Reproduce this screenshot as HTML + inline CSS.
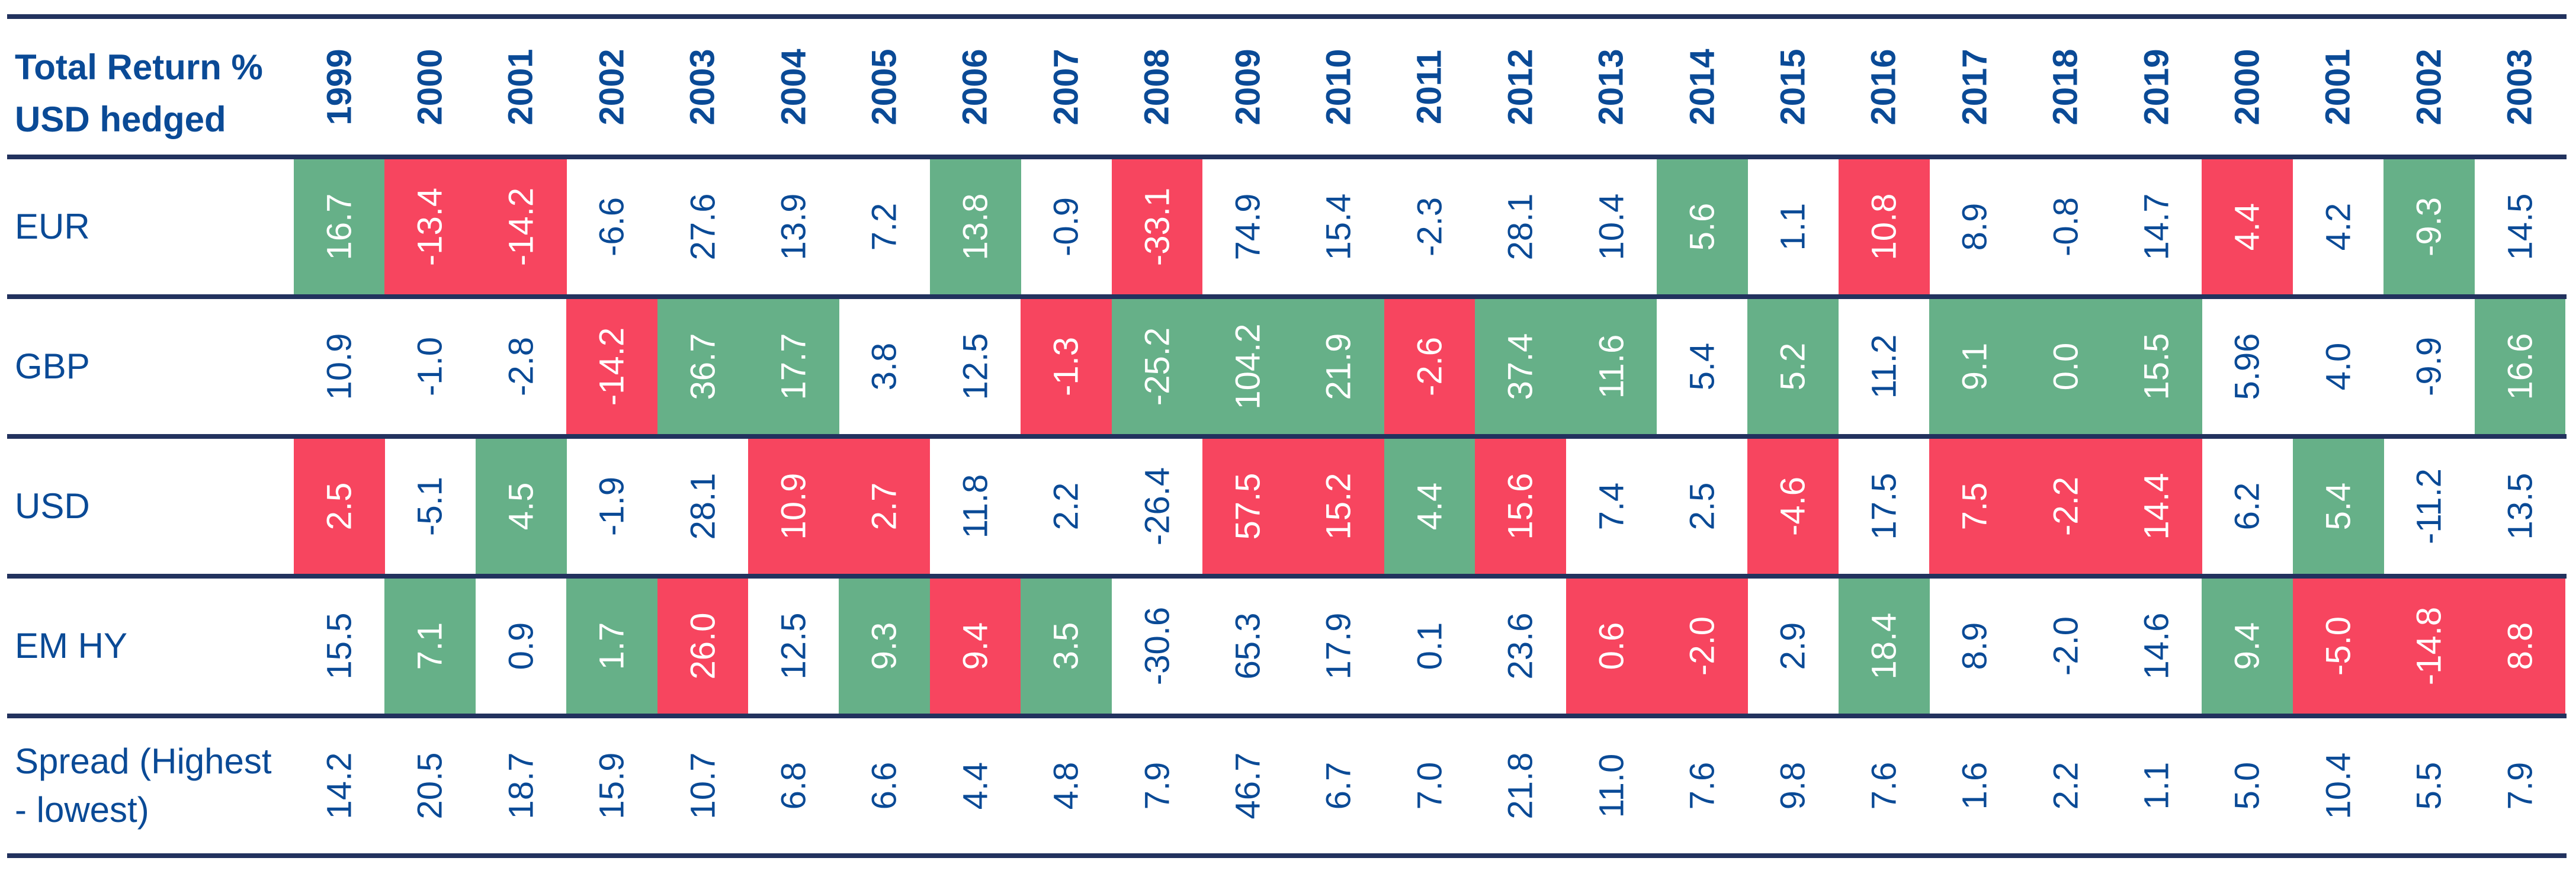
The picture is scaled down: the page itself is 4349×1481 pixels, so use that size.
<!DOCTYPE html>
<html><head><meta charset="utf-8">
<style>
html,body{margin:0;padding:0;background:#fff;}
#root{position:relative;width:4349px;height:1481px;overflow:hidden;font-family:"Liberation Sans",sans-serif;}
.hl{position:absolute;left:12px;width:4321px;height:8px;background:#22325e;}
.cell{position:absolute;}
.txt{position:absolute;left:50%;top:50%;transform:translate(-50%,-50%) rotate(-90deg);white-space:nowrap;font-size:58px;color:#0a4a96;}
.lbl{position:absolute;left:25px;color:#0a4a96;font-size:60px;line-height:82px;}
</style></head>
<body>
<div id="root">
  <div class="lbl" style="top:70px;font-weight:bold;line-height:88px;">Total Return %<br>USD hedged</div>
</div>
<script>
const years=["1999","2000","2001","2002","2003","2004","2005","2006","2007","2008","2009","2010","2011","2012","2013","2014","2015","2016","2017","2018","2019","2000","2001","2002","2003"];
const rowLabels=["EUR","GBP","USD","EM HY","Spread (Highest<br>- lowest)"];
const eurVals=["16.7","-13.4","-14.2","-6.6","27.6","13.9","7.2","13.8","-0.9","-33.1","74.9","15.4","-2.3","28.1","10.4","5.6","1.1","10.8","8.9","-0.8","14.7","4.4","4.2","-9.3","14.5"];
const eurCol=["G","R","R","","","","","G","","R","","","","","","G","","R","","","","R","","G",""];
const gbpVals=["10.9","-1.0","-2.8","-14.2","36.7","17.7","3.8","12.5","-1.3","-25.2","104.2","21.9","-2.6","37.4","11.6","5.4","5.2","11.2","9.1","0.0","15.5","5.96","4.0","-9.9","16.6"];
const gbpCol=["","","","R","G","G","","","R","G","G","G","R","G","G","","G","","G","G","G","","","","G"];
const usdVals=["2.5","-5.1","4.5","-1.9","28.1","10.9","2.7","11.8","2.2","-26.4","57.5","15.2","4.4","15.6","7.4","2.5","-4.6","17.5","7.5","-2.2","14.4","6.2","5.4","-11.2","13.5"];
const usdCol=["R","","G","","","R","R","","","","R","R","G","R","","","R","","R","R","R","","G","",""];
const emVals=["15.5","7.1","0.9","1.7","26.0","12.5","9.3","9.4","3.5","-30.6","65.3","17.9","0.1","23.6","0.6","-2.0","2.9","18.4","8.9","-2.0","14.6","9.4","-5.0","-14.8","8.8"];
const emCol=["","G","","G","R","","G","R","G","","","","","","R","R","","G","","","","G","R","R","R"];
const spreadVals=["14.2","20.5","18.7","15.9","10.7","6.8","6.6","4.4","4.8","7.9","46.7","6.7","7.0","21.8","11.0","7.6","9.8","7.6","1.6","2.2","1.1","5.0","10.4","5.5","7.9"];
const spreadCol=["","","","","","","","","","","","","","","","","","","","","","","","",""];

const rowsVals=[eurVals,gbpVals,usdVals,emVals,spreadVals];
const rowsCol=[eurCol,gbpCol,usdCol,emCol,spreadCol];
const root=document.getElementById('root');
const x0=496, cw=153.4;
const lines=[28,265,501,737,973,1209,1445];
const colors={G:"#66b088",R:"#f7455f"};

lines.forEach(function(y,i){
  const l=document.createElement('div');
  l.className='hl';
  l.style.top=(y-4)+'px';
  
  
  root.appendChild(l);
});

years.forEach(function(yr,j){
  const c=document.createElement('div');
  c.className='cell';
  c.style.left=(x0+j*cw)+'px';c.style.top='32px';c.style.width=cw+'px';c.style.height='229px';
  
  
  const t=document.createElement('div');
  t.className='txt';t.style.fontWeight='bold';t.style.top='50%';
  t.textContent=yr;
  c.appendChild(t);
  root.appendChild(c);
});

rowLabels.forEach(function(lab,i){
  const top=lines[i+1]+4, h=lines[i+2]-lines[i+1]-8;
  const l=document.createElement('div');
  l.className='lbl';
  l.innerHTML=lab;
  
  
  root.appendChild(l);
  const lh=(lab.indexOf('<br>')>=0)?164:82;
  l.style.top=(top+(h-lh)/2)+'px';
  rowsVals[i].forEach(function(v,j){
    const c=document.createElement('div');
    c.className='cell';
    c.style.left=(x0+j*cw)+'px';c.style.top=top+'px';c.style.width=(cw+0.5)+'px';c.style.height=h+'px';
    const col=rowsCol[i][j];
    if(col){c.style.background=colors[col];}
    
    
    const t=document.createElement('div');
    t.className='txt';
    if(col){t.style.color='#ffffff';}
    t.textContent=v;
    c.appendChild(t);
    root.appendChild(c);
  });
});
</script>
</body></html>
